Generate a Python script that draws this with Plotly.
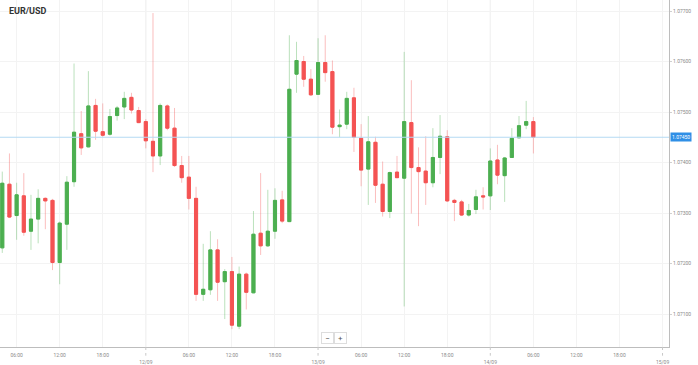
import pandas as pd
import plotly.graph_objects as go

# ---- data (hourly candles) ----
start_time = "2023-09-11 04:00"
opens = [1.07231, 1.07357, 1.07295, 1.07334, 1.07264, 1.07288, 1.07329, 1.07325, 1.07202, 1.07278,
         1.07362, 1.07457, 1.07431, 1.07513, 1.07461, 1.07456, 1.07493, 1.07510, 1.07529, 1.07503,
         1.07481, 1.07442, 1.07413, 1.07512, 1.07468, 1.07394, 1.07371, 1.07329, 1.07139, 1.07148,
         1.07227, 1.07164, 1.07184, 1.07076, 1.07179, 1.07142, 1.07260, 1.07235, 1.07264, 1.07326,
         1.07283, 1.07575, 1.07600, 1.07565, 1.07535, 1.07598, 1.07580, 1.07471, 1.07476, 1.07528,
         1.07448, 1.07387, 1.07440, 1.07357, 1.07303, 1.07381, 1.07369, 1.07479, 1.07390, 1.07383,
         1.07360, 1.07410, 1.07451, 1.07325, 1.07322, 1.07296, 1.07307, 1.07334, 1.07334, 1.07405,
         1.07374, 1.07410, 1.07449, 1.07474, 1.07481]
highs = [1.07382, 1.07418, 1.07360, 1.07379, 1.07336, 1.07347, 1.07331, 1.07328, 1.07283, 1.07373,
         1.07596, 1.07502, 1.07581, 1.07526, 1.07517, 1.07506, 1.07512, 1.07540, 1.07538, 1.07510,
         1.07486, 1.07696, 1.07517, 1.07515, 1.07508, 1.07413, 1.07413, 1.07352, 1.07239, 1.07264,
         1.07248, 1.07189, 1.07213, 1.07194, 1.07182, 1.07304, 1.07379, 1.07346, 1.07349, 1.07344,
         1.07652, 1.07639, 1.07611, 1.07585, 1.07646, 1.07652, 1.07602, 1.07505, 1.07540, 1.07548,
         1.07476, 1.07492, 1.07451, 1.07402, 1.07382, 1.07413, 1.07619, 1.07563, 1.07430, 1.07452,
         1.07468, 1.07494, 1.07464, 1.07328, 1.07326, 1.07318, 1.07346, 1.07351, 1.07428, 1.07435,
         1.07411, 1.07468, 1.07492, 1.07522, 1.07490]
lows = [1.07221, 1.07290, 1.07247, 1.07255, 1.07227, 1.07240, 1.07268, 1.07187, 1.07159, 1.07227,
        1.07352, 1.07415, 1.07430, 1.07445, 1.07451, 1.07453, 1.07483, 1.07486, 1.07497, 1.07478,
        1.07428, 1.07381, 1.07395, 1.07464, 1.07391, 1.07360, 1.07307, 1.07126, 1.07126, 1.07138,
        1.07126, 1.07090, 1.07070, 1.07070, 1.07109, 1.07141, 1.07217, 1.07233, 1.07249, 1.07280,
        1.07282, 1.07538, 1.07550, 1.07532, 1.07534, 1.07560, 1.07456, 1.07450, 1.07466, 1.07421,
        1.07353, 1.07316, 1.07320, 1.07293, 1.07290, 1.07369, 1.07115, 1.07299, 1.07274, 1.07316,
        1.07351, 1.07377, 1.07322, 1.07284, 1.07294, 1.07293, 1.07298, 1.07307, 1.07306, 1.07357,
        1.07322, 1.07409, 1.07448, 1.07466, 1.07418]
closes = [1.07359, 1.07292, 1.07336, 1.07262, 1.07288, 1.07329, 1.07324, 1.07202, 1.07280, 1.07361,
          1.07460, 1.07429, 1.07512, 1.07462, 1.07454, 1.07491, 1.07508, 1.07527, 1.07504, 1.07479,
          1.07443, 1.07413, 1.07513, 1.07468, 1.07394, 1.07370, 1.07329, 1.07139, 1.07149, 1.07227,
          1.07163, 1.07184, 1.07078, 1.07179, 1.07143, 1.07258, 1.07235, 1.07264, 1.07325, 1.07284,
          1.07545, 1.07602, 1.07565, 1.07534, 1.07598, 1.07578, 1.07470, 1.07474, 1.07527, 1.07450,
          1.07385, 1.07441, 1.07355, 1.07303, 1.07380, 1.07370, 1.07481, 1.07390, 1.07382, 1.07360,
          1.07410, 1.07452, 1.07324, 1.07321, 1.07296, 1.07305, 1.07332, 1.07332, 1.07403, 1.07375,
          1.07409, 1.07448, 1.07473, 1.07481, 1.07450]
y_ticks = [1.071, 1.072, 1.073, 1.074, 1.075, 1.076, 1.077]
x_tick_times = pd.date_range("2023-09-11 06:00", "2023-09-15 00:00", freq="6h")
date_labels = ["12/09", "13/09", "14/09", "15/09"]

times = pd.date_range(start_time, periods=len(opens), freq="h")

GREEN = "#4caf50"
RED = "#f45353"
GREEN_WICK = "rgba(76,175,80,0.38)"
RED_WICK = "rgba(244,83,83,0.38)"

fig = go.Figure()
# wicks
fig.add_trace(go.Candlestick(
    x=times, open=opens, high=highs, low=lows, close=closes,
    increasing=dict(line=dict(color=GREEN_WICK, width=1), fillcolor=GREEN_WICK),
    decreasing=dict(line=dict(color=RED_WICK, width=1), fillcolor=RED_WICK),
    hoverinfo="skip", showlegend=False))
# bodies
body_hi = [max(o, c) for o, c in zip(opens, closes)]
body_lo = [min(o, c) for o, c in zip(opens, closes)]
fig.add_trace(go.Candlestick(
    x=times, open=opens, high=body_hi, low=body_lo, close=closes,
    increasing=dict(line=dict(color=GREEN, width=1), fillcolor=GREEN),
    decreasing=dict(line=dict(color=RED, width=1), fillcolor=RED),
    showlegend=False))

# x ticks
ticktext = []
midnights = []
di = 0
for t in x_tick_times:
    if t.hour == 0:
        ticktext.append("<br>" + date_labels[di])
        di += 1
        midnights.append(t)
    else:
        ticktext.append(t.strftime("%H:%M"))

x0 = pd.Timestamp("2023-09-11 03:41")
x1 = pd.Timestamp("2023-09-15 00:54")

shapes = []
for m in midnights:
    shapes.append(dict(type="line", xref="x", yref="paper", x0=m, x1=m, y0=0, y1=1,
                       line=dict(color="#e6e6e6", width=1), layer="below"))
    shapes.append(dict(type="line", xref="x", yref="paper", x0=m, x1=m, y0=0, y1=-0.025,
                       line=dict(color="#c8c8c8", width=1, dash="dot")))
last_price = closes[-1]
shapes.append(dict(type="line", xref="paper", yref="y", x0=0, x1=1, y0=last_price, y1=last_price,
                   line=dict(color="#b5daf3", width=1.2)))

fig.update_layout(
    width=698, height=365,
    margin=dict(l=0, r=29, t=0, b=18),
    paper_bgcolor="white", plot_bgcolor="white",
    font=dict(family="Roboto", color="#8a8a8a", size=5),
    showlegend=False,
    boxgap=0.38,
    shapes=shapes,
    xaxis=dict(type="date", range=[x0, x1], rangeslider=dict(visible=False),
               tickvals=list(x_tick_times), ticktext=ticktext, tickangle=0,
               showgrid=True, gridcolor="#f3f3f3", gridwidth=1,
               showline=True, linecolor="#bdbdbd", linewidth=1,
               ticks="outside", ticklen=3, tickcolor="rgba(0,0,0,0)",
               zeroline=False, tickfont=dict(size=5, color="#8a8a8a")),
    yaxis=dict(side="right", range=[1.070347, 1.077218], tickvals=y_ticks,
               tickformat=".5f", showgrid=True, gridcolor="#f3f3f3", gridwidth=1,
               showline=True, linecolor="#bdbdbd", linewidth=1,
               ticks="outside", ticklen=2, tickcolor="#d0d0d0",
               zeroline=False, tickfont=dict(size=5, color="#8a8a8a")),
    annotations=[
        dict(text="<b>EUR/USD</b>", xref="paper", yref="paper", x=0.011, y=0.968,
             xanchor="left", yanchor="middle", showarrow=False,
             font=dict(size=9, color="#333333", family="Roboto")),
        dict(text=f"{last_price:.5f}", xref="paper", yref="y", x=1, y=last_price,
             xanchor="left", yanchor="middle", xshift=1, showarrow=False,
             bgcolor="#2f8fe6", borderpad=1, font=dict(size=5, color="white")),
        dict(text="\u2212", xref="paper", yref="paper", x=0.4895, y=0.026,
             xanchor="center", yanchor="middle", showarrow=False,
             bgcolor="white", bordercolor="#dddddd", borderwidth=1, borderpad=1,
             width=9, height=8, font=dict(size=8, color="#555555")),
        dict(text="+", xref="paper", yref="paper", x=0.509, y=0.026,
             xanchor="center", yanchor="middle", showarrow=False,
             bgcolor="white", bordercolor="#dddddd", borderwidth=1, borderpad=1,
             width=9, height=8, font=dict(size=8, color="#555555")),
    ],
)

fig.write_html("out.html", config={"displayModeBar": False},
               post_script="document.body.style.margin='0';document.body.style.overflow='hidden';")
